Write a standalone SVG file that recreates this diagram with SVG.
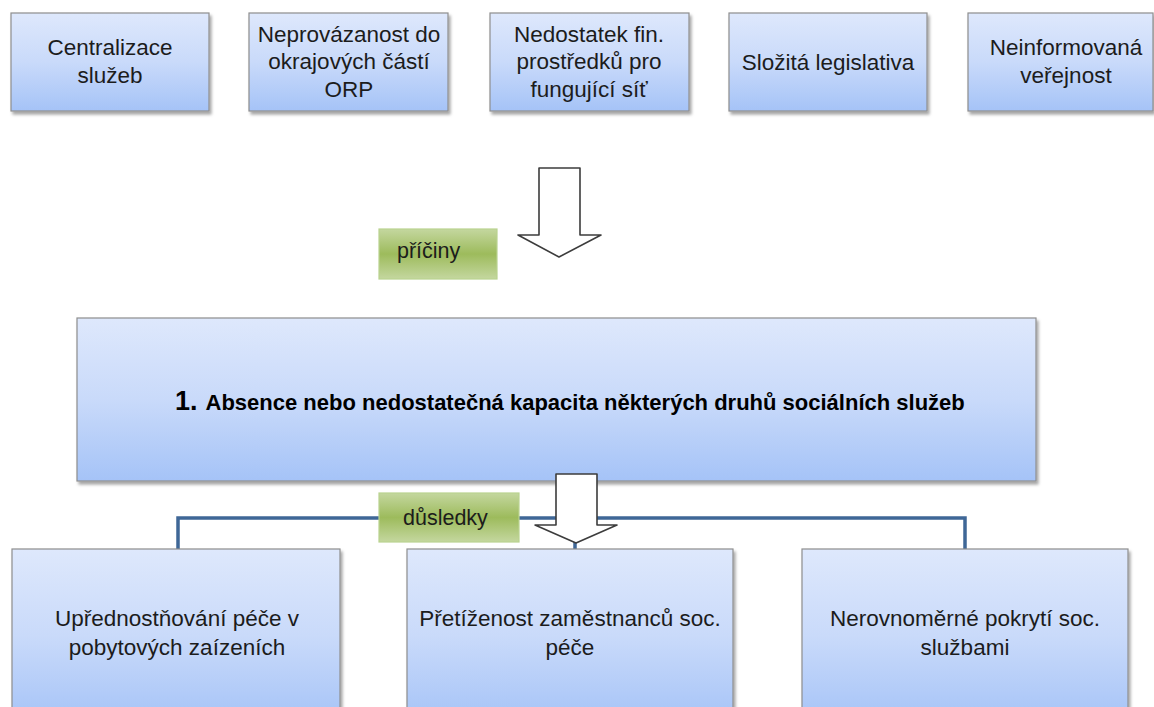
<svg xmlns="http://www.w3.org/2000/svg" width="1154" height="707" viewBox="0 0 1154 707">
<defs>
  <linearGradient id="blue" x1="0" y1="0" x2="0" y2="1">
    <stop offset="0" stop-color="#dee8fc"/>
    <stop offset="0.5" stop-color="#c9dafa"/>
    <stop offset="1" stop-color="#a5c3f7"/>
  </linearGradient>
  <linearGradient id="green" x1="0" y1="0" x2="0" y2="1">
    <stop offset="0" stop-color="#c4d79f"/>
    <stop offset="0.5" stop-color="#9dbb5c"/>
    <stop offset="1" stop-color="#c4d79f"/>
  </linearGradient>
  <filter id="sh" x="-10%" y="-10%" width="130%" height="140%">
    <feDropShadow dx="2" dy="3" stdDeviation="1.6" flood-color="#000" flood-opacity="0.35"/>
  </filter>
</defs>
<style>
  .box { fill: url(#blue); stroke: #8e8e8e; stroke-width: 1.2; filter: url(#sh); }
  .lbl { fill: url(#green); stroke: #b9d28f; stroke-width: 1.2; }
  .t { font-family: "Liberation Sans", Arial, sans-serif; font-size: 22.5px; fill: #1c1c1c; text-anchor: middle; }
  .lt { font-family: "Liberation Sans", Arial, sans-serif; font-size: 21.5px; fill: #1c1c1c; }
  .main { font-family: "Liberation Sans", Arial, sans-serif; font-weight: bold; fill: #000; }
  .arrow { fill: #ffffff; stroke: #3c3c3c; stroke-width: 1.6; stroke-linejoin: round; }
  .conn { fill: none; stroke: #3f6797; stroke-width: 3.5; }
</style>
<rect width="1154" height="707" fill="#ffffff"/>

<g id="cause1">
  <rect class="box" x="11" y="13" width="198" height="98"/>
  <text class="t" x="110" y="55">Centralizace</text>
  <text class="t" x="110" y="83">služeb</text>
</g>
<g id="cause2">
  <rect class="box" x="249" y="13" width="199" height="98"/>
  <text class="t" x="349" y="42">Neprovázanost do</text>
  <text class="t" x="349" y="69">okrajových částí</text>
  <text class="t" x="349" y="97">ORP</text>
</g>
<g id="cause3">
  <rect class="box" x="490" y="13" width="199" height="98"/>
  <text class="t" x="589" y="42">Nedostatek fin.</text>
  <text class="t" x="589" y="69">prostředků pro</text>
  <text class="t" x="589" y="97">fungující síť</text>
</g>
<g id="cause4">
  <rect class="box" x="729" y="13" width="198" height="98"/>
  <text class="t" x="828" y="70">Složitá legislativa</text>
</g>
<g id="cause5">
  <rect class="box" x="968" y="13" width="185" height="98"/>
  <text class="t" x="1066" y="55">Neinformovaná</text>
  <text class="t" x="1066" y="83">veřejnost</text>
</g>

<g id="arrow-causes">
  <path class="arrow" d="M539,168 L580,168 L580,235 L601,235 L559,257 L518,235 L539,235 Z"/>
</g>

<g id="label-priciny">
  <rect class="lbl" x="379" y="229" width="118" height="50"/>
  <text class="lt" x="397" y="258">příčiny</text>
</g>

<g id="problem">
  <rect class="box" x="77" y="318" width="959" height="163"/>
  <text class="main" x="175" y="410"><tspan font-size="27">1.</tspan><tspan font-size="22" dx="8">Absence nebo nedostatečná kapacita některých druhů sociálních služeb</tspan></text>
</g>

<g id="connectors">
  <path class="conn" d="M178,549 L178,518 L965,518 L965,549"/>
  <path class="conn" d="M575,518 L575,549"/>
</g>

<g id="arrow-effects">
  <path class="arrow" d="M556,474 L597,474 L597,525 L617,525 L576,543 L535,525 L556,525 Z"/>
</g>

<g id="label-dusledky">
  <rect class="lbl" x="379" y="493" width="140" height="49"/>
  <text class="lt" x="403" y="525">důsledky</text>
</g>

<g id="effect1">
  <rect class="box" x="12" y="549" width="328" height="175"/>
  <text class="t" x="177" y="626">Upřednostňování péče v</text>
  <text class="t" x="177" y="655">pobytových zaízeních</text>
</g>
<g id="effect2">
  <rect class="box" x="407" y="549" width="326" height="175"/>
  <text class="t" x="570" y="626">Přetíženost zaměstnanců soc.</text>
  <text class="t" x="570" y="655">péče</text>
</g>
<g id="effect3">
  <rect class="box" x="802" y="549" width="326" height="175"/>
  <text class="t" x="965" y="626">Nerovnoměrné pokrytí soc.</text>
  <text class="t" x="965" y="655">službami</text>
</g>
</svg>
